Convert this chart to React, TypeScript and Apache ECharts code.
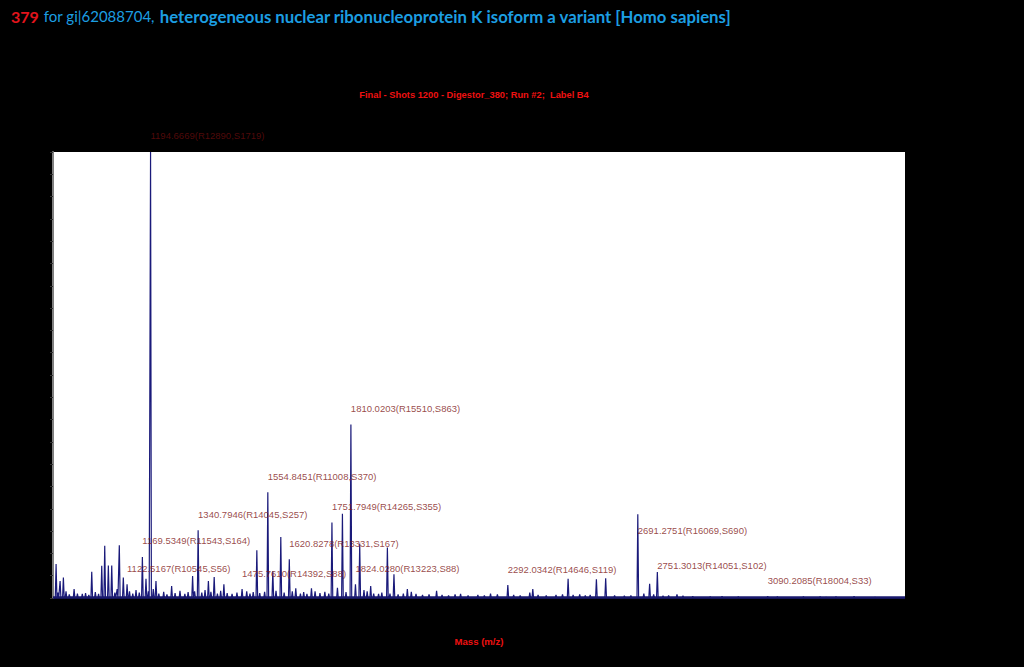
import React, { useEffect, useRef } from "react";
import * as echarts from "echarts";

// Labelled peaks
const labeledMass = [1194.6669, 1122.5167, 1169.5349, 1340.7946, 1475.761, 1554.8451, 1620.8278, 1751.7949, 1810.0203, 1824.028, 2292.0342, 2691.2751, 2751.3013, 3090.2085];
const labeledRes = [12890, 10545, 11543, 14045, 14392, 11008, 13331, 14265, 15510, 13223, 14646, 16069, 14051, 18004];
const labeledSN = [1719, 56, 164, 257, 88, 370, 167, 355, 863, 88, 119, 690, 102, 33];
const labeledHeight = [100, 3.1, 9.2, 15.2, 2.0, 23.7, 8.7, 16.9, 38.9, 3.1, 2.9, 18.8, 5.8, 0.4];

// Other visible peaks (m/z, relative intensity %)
const peakMass = [904.5, 916.8, 926.9, 959.8, 1014.0, 1044.7, 1053.9, 1065.0, 1075.4, 1098.7, 1111.0, 1180.6, 1211.3, 1259.4, 1323.8, 1372.3, 1390.1, 1419.9, 1521.1, 1570.2, 1594.7, 1640.7, 1688.9, 1768.7, 1784.0, 1837.1, 1850.2, 1870.8, 1922.1, 1942.3, 1971.1, 1983.4, 1995.6, 2073.2, 2146.9, 2238.9, 2359.5, 2368.7, 2477.2, 2492.6, 2512.8, 2564.1, 2592.6, 2709.8, 2727.6, 2768.7, 2785.9, 2811.6, 2913.7, 3251.2, 3269.6, 3355.5];
const peakHeight = [7.6, 3.8, 4.6, 2.0, 5.9, 7.2, 11.7, 7.3, 7.3, 11.8, 4.6, 4.3, 3.8, 2.7, 4.9, 3.8, 4.7, 3.1, 10.7, 6.0, 13.7, 2.2, 2.2, 2.3, 18.9, 12.2, 1.8, 2.7, 11.3, 5.3, 1.0, 2.0, 1.4, 1.6, 0.9, 1.0, 1.2, 2.0, 4.3, 0.7, 0.8, 4.2, 4.4, 1.0, 3.2, 0.5, 0.6, 0.8, 0.3, 0.3, 0.2, 0.4];

// Baseline noise peaks
const noiseMass = [910, 935, 945, 970, 985, 995, 1005, 1025, 1035, 1085, 1092, 1130, 1140, 1150, 1160, 1188, 1203, 1220, 1235, 1245, 1270, 1285, 1300, 1310, 1330, 1352, 1362, 1380, 1400, 1410, 1430, 1445, 1460, 1490, 1500, 1510, 1530, 1545, 1580, 1605, 1630, 1655, 1665, 1675, 1700, 1715, 1730, 1742, 1795, 1860, 1880, 1895, 1905, 1930, 1955, 2010, 2030, 2050, 2090, 2110, 2130, 2170, 2200, 2220, 2260, 2310, 2330, 2385, 2410, 2440, 2460, 2530, 2545, 2620, 2650, 2670, 2740, 2830, 2860, 2950, 3000, 3120, 3200, 3300, 3420];
const noiseHeight = [1.2, 1.5, 0.8, 1.0, 0.9, 1.1, 0.7, 1.3, 0.9, 1.2, 2.0, 1.5, 1.0, 1.8, 1.2, 1.5, 2.0, 1.0, 1.4, 0.8, 1.1, 1.6, 0.9, 1.3, 1.5, 1.2, 1.8, 1.4, 1.0, 1.6, 1.1, 0.9, 1.2, 1.5, 1.0, 1.3, 1.1, 1.4, 1.6, 1.2, 1.5, 1.0, 1.3, 0.9, 1.5, 1.1, 1.4, 1.0, 1.3, 1.5, 1.0, 0.9, 1.2, 1.0, 0.8, 0.9, 0.7, 0.8, 0.7, 0.6, 0.8, 0.6, 0.7, 0.6, 0.8, 0.7, 0.6, 0.7, 0.6, 0.7, 0.8, 0.6, 0.7, 0.6, 0.5, 0.6, 0.8, 0.5, 0.4, 0.4, 0.3, 0.3, 0.3, 0.3, 0.2];

const xMin = 895;
const xMax = 3512;

const labelNudge: Record<number, number> = { 11: 16, 12: -7 };

export default function App() {
  const ref = useRef<HTMLDivElement>(null);
  useEffect(() => {
    if (!ref.current) return;
    const chart = echarts.init(ref.current, null, { renderer: "svg" });
    const halfWidth = 2.5;
    const peaks: [number, number][] = [];
    labeledMass.forEach((m, i) => peaks.push([m, labeledHeight[i]]));
    peakMass.forEach((m, i) => peaks.push([m, peakHeight[i]]));
    noiseMass.forEach((m, i) => peaks.push([m, noiseHeight[i]]));
    const pts: [number, number][] = [[xMin, 0]];
    peaks.forEach(([m, h]) => {
      pts.push([m - halfWidth, 0], [m, h], [m + halfWidth, 0]);
    });
    pts.push([xMax, 0]);
    pts.sort((a, b) => a[0] - b[0]);

    const labelData = labeledMass.map((m, i) => {
      const nudge = labelNudge[i] !== undefined ? labelNudge[i] : -16;
      return {
        value: [m, labeledHeight[i]],
        label: {
          show: true,
          position: [0, nudge],
          align: "left",
          verticalAlign: "middle",
          color: i === 0 ? "#660c0c" : "#801616",
          formatter: `${m.toFixed(4)}(R${labeledRes[i]},S${labeledSN[i]})`,
        },
      };
    });

    chart.setOption({
      animation: false,
      backgroundColor: "#000000",
      title: [
        {
          text: "{r|379} {n|for gi|62088704,} {b|heterogeneous nuclear ribonucleoprotein K isoform a variant [Homo sapiens]}",
          left: 6,
          top: 2,
          textStyle: {
            rich: {
              r: { color: "#e3141c", fontFamily: "Lato", fontWeight: "bold", fontSize: 16 },
              n: { color: "#1c9ee2", fontFamily: "Lato", fontWeight: "normal", fontSize: 15 },
              b: { color: "#1c9ee2", fontFamily: "Lato", fontWeight: "bold", fontSize: 16.75 },
            },
          },
        },
        {
          text: "Final - Shots 1200 - Digestor_380; Run #2;  Label B4",
          left: 474,
          top: 90,
          padding: 0,
          textAlign: "center",
          textStyle: { color: "#ee1111", fontFamily: "Liberation Sans", fontWeight: "bold", fontSize: 9.3 },
        },
      ],
      grid: {
        left: 53,
        right: 119,
        top: 152,
        bottom: 69,
        show: true,
        backgroundColor: "#ffffff",
        borderWidth: 0,
      },
      xAxis: {
        type: "value",
        min: xMin,
        max: xMax,
        name: "Mass (m/z)",
        nameLocation: "middle",
        nameGap: 38,
        nameTextStyle: { color: "#ee1111", fontFamily: "Liberation Sans", fontWeight: "bold", fontSize: 9.6 },
        axisLine: { show: false },
        axisTick: { show: false },
        axisLabel: { show: false },
        splitLine: { show: false },
      },
      yAxis: {
        type: "value",
        min: 0,
        max: 100,
        interval: 5,
        axisLine: { show: true, lineStyle: { color: "#808080", width: 2 } },
        axisTick: { show: true, inside: false, length: 3, lineStyle: { color: "#333333" } },
        axisLabel: { show: false },
        splitLine: { show: false },
      },
      series: [
        {
          type: "line",
          data: pts,
          showSymbol: false,
          symbol: "none",
          lineStyle: { color: "#1a1a7a", width: 1.2 },
          silent: true,
          z: 2,
          markLine: {
            silent: true,
            symbol: "none",
            label: { show: false },
            lineStyle: { color: "#1a1a6e", width: 2.5, type: "solid" },
            data: [{ yAxis: 0.2 }],
          },
        },
        {
          type: "scatter",
          data: labelData,
          symbolSize: 0.1,
          itemStyle: { color: "rgba(0,0,0,0)" },
          label: { fontFamily: "Liberation Sans", fontSize: 9.5 },
          silent: true,
          z: 3,
        },
      ],
    });
    return () => chart.dispose();
  }, []);
  return (
    <div
      ref={ref}
      style={{ position: "fixed", left: 0, top: 0, width: 1024, height: 667, background: "#000" }}
    />
  );
}
